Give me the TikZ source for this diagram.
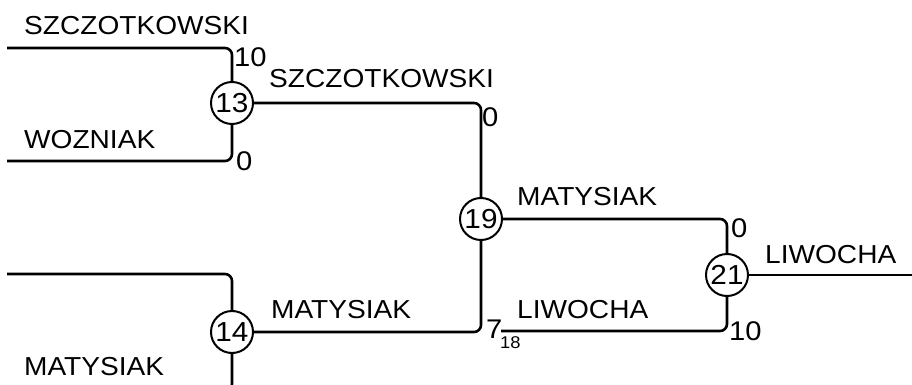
\documentclass[tikz,border=0pt]{standalone}
\usepackage{fontspec}
\setmainfont[FakeStretch=1.08]{Liberation Sans}
\begin{document}
\begin{tikzpicture}[x=1pt,y=-1pt,
  conn/.style={line width=2.6pt, rounded corners=7pt},
  match/.style={circle, draw, line width=2pt, minimum size=42pt, inner sep=0pt, fill=white,
    font=\fontsize{27.5}{30}\selectfont},
  lab/.style={anchor=base west, inner sep=0pt, font=\fontsize{26}{30}\selectfont},
  num/.style={anchor=base west, inner sep=0pt, font=\fontsize{27}{30}\selectfont},
  sub/.style={anchor=base west, inner sep=0pt, font=\fontsize{17}{20}\selectfont}]
\clip (0,0) rectangle (912,385);
\useasboundingbox (0,0) rectangle (912,385);
% match nodes
\node[match] (m13) at (232,103) {13};
\node[match] (m14) at (232,332) {14};
\node[match] (m19) at (481,219) {19};
\node[match] (m21) at (727,275) {21};
% free ends
\coordinate (a1) at (7,48);
\coordinate (a2) at (7,161);
\coordinate (a3) at (7,274);
\coordinate (a4) at (7,391);
\coordinate (a5) at (501,331);
\coordinate (z) at (912,275);
% connectors
\draw[conn] (a1) -| (m13);
\draw[conn] (a2) -| (m13);
\draw[conn] (a3) -| (m14);
\draw[conn] (a4) -| (m14);
\draw[conn] (m13) -| (m19);
\draw[conn] (m14) -| (m19);
\draw[conn] (m19) -| (m21);
\draw[conn] (a5) -| (m21);
\draw[conn] (m21) -- (z);
% labels
\node[lab] (t1) at (24,35) {SZCZOTKOWSKI};
\node[lab] (t2) at (24,148) {WOZNIAK};
\node[lab] (t3) at (24,375) {MATYSIAK};
\node[lab] (t4) at (269,88) {SZCZOTKOWSKI};
\node[lab] (t5) at (271,318) {MATYSIAK};
\node[lab] (t6) at (517,205) {MATYSIAK};
\node[lab] (t7) at (517,318) {LIWOCHA};
\node[lab] (t8) at (765,263) {LIWOCHA};
% scores
\node[num] (s1) at (234,67) {10};
\node[num] (s2) at (236,170) {0};
\node[num] (s3) at (482,126) {0};
\node[num] (s4) at (486,338) {7};
\node[sub] (s5) at (500,348) {18};
\node[num] (s6) at (731,237) {0};
\node[num] (s7) at (729,340) {10};
\end{tikzpicture}
\end{document}
